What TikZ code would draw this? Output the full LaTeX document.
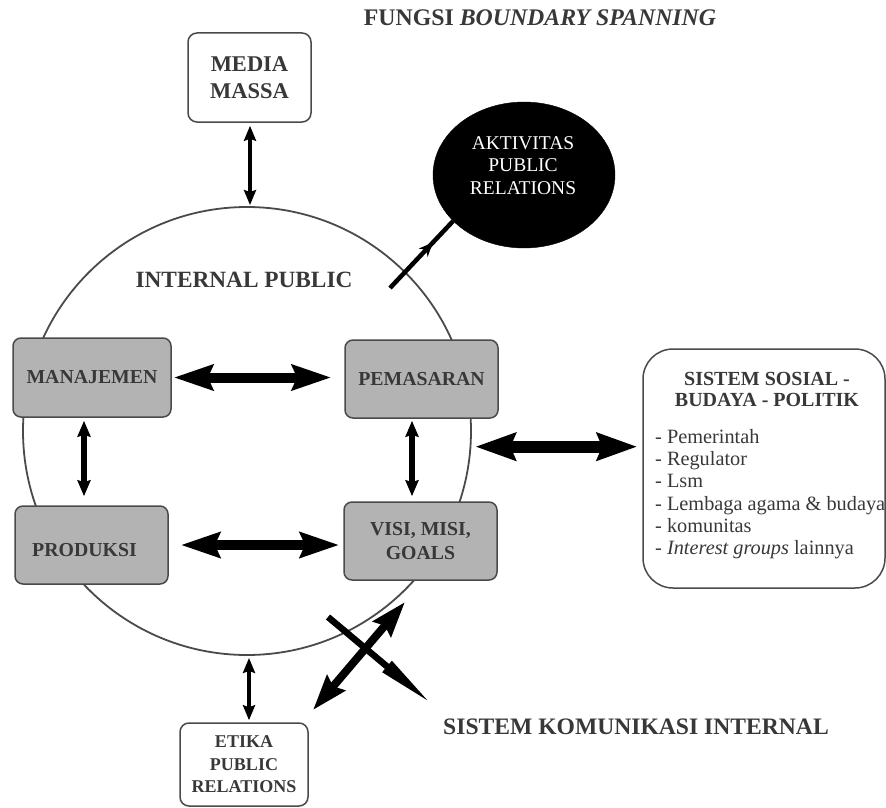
\documentclass[tikz,border=0pt]{standalone}
\usepackage{fontspec}
\setmainfont{Liberation Serif}
\usetikzlibrary{arrows.meta,shapes.geometric,decorations.markings}
\definecolor{txt}{HTML}{383838}
\definecolor{edge}{HTML}{4A4A4A}
\definecolor{boxfill}{HTML}{B3B3B3}
\begin{document}
\begin{tikzpicture}[x=1pt,y=-1pt,
  whitebox/.style={draw=edge, line width=1.5pt, rounded corners=9pt, fill=white, text=txt, align=center, inner sep=0pt},
  graybox/.style={draw=edge, line width=1.5pt, rounded corners=8pt, fill=boxfill, text=txt, align=center, inner sep=0pt, minimum width=153pt, minimum height=78pt, font=\bfseries\fontsize{19.8}{24}\selectfont},
  boxtext/.style={text=txt, align=center, inner sep=0pt, font=\bfseries\fontsize{19.8}{24}\selectfont},
  fatarrow/.style={line width=10pt, {Stealth[length=39pt,width=25pt,inset=5pt]}-{Stealth[length=39pt,width=25pt,inset=5pt]}},
  bigarrow/.style={line width=12pt, {Stealth[length=40pt,width=27pt,inset=5pt]}-{Stealth[length=40pt,width=27pt,inset=5pt]}},
  medarrow/.style={line width=5.5pt, {Stealth[length=16pt,width=13pt,inset=2pt]}-{Stealth[length=16pt,width=13pt,inset=2pt]}},
  thinarrow/.style={line width=3.5pt, {Stealth[length=15pt,width=12pt,inset=2pt]}-{Stealth[length=15pt,width=12pt,inset=2pt]}},
  crossarrow/.style={line width=8pt, {Stealth[length=35pt,width=23pt,inset=4pt]}-{Stealth[length=35pt,width=23pt,inset=4pt]}},
  speararrow/.style={line width=6.5pt, -{Triangle[length=60pt,width=13pt]}}
]
\useasboundingbox (0,0) rectangle (886,808);

% title
\node[anchor=base, text=txt, inner sep=0pt, font=\bfseries\fontsize{23.8}{26}\selectfont] (title) at (540,26) {FUNGSI \textit{BOUNDARY SPANNING}};

% circle
\node[circle, draw=edge, line width=1.8pt, minimum size=448pt, inner sep=0pt] (circ) at (247,431) {};
\node[text=txt, inner sep=0pt, font=\bfseries\fontsize{23.3}{26}\selectfont] (internal) at (244,280) {INTERNAL PUBLIC};

% media massa
\node[whitebox, minimum width=123pt, minimum height=89pt, font=\bfseries\fontsize{22.5}{27}\selectfont] (media) at (249.5,77.5) {MEDIA\\MASSA};

% aktivitas
\node[ellipse, fill=black, draw=black, minimum width=182pt, minimum height=146pt, inner sep=0pt] (akt) at (524,175) {};
\node[text=white, align=center, inner sep=0pt, font=\fontsize{19.5}{22.5}\selectfont] (akttext) at (523,165.5) {AKTIVITAS\\PUBLIC\\RELATIONS};

% gray boxes
\node[graybox, minimum width=158pt, minimum height=79pt] (man) at (92,377.5) {MANAJEMEN};
\node[graybox] (pem) at (421.5,379) {PEMASARAN};
\node[graybox] (pro) at (91.5,545) {};
\node[boxtext] (protext) at (84.5,550) {PRODUKSI};
\node[graybox] (visi) at (420.5,541) {VISI, MISI,\\GOALS};

% sistem sosial box
\node[draw=edge, line width=1.5pt, rounded corners=30pt, fill=white, minimum width=242pt, minimum height=239pt, inner sep=0pt] (sys) at (764,468.5) {};
\node[text=txt, align=center, inner sep=0pt, font=\bfseries\fontsize{20}{21}\selectfont] (systitle) at (767,389.5) {SISTEM SOSIAL -\\BUDAYA - POLITIK};
\node[text=txt, align=left, anchor=north west, inner sep=0pt, font=\fontsize{20.3}{22.3}\selectfont] (sysitems) at (655,429) {- Pemerintah\\- Regulator\\- Lsm\\- Lembaga agama \& budaya\\- komunitas\\- \textit{Interest groups} lainnya};

% etika box
\node[whitebox, minimum width=128pt, minimum height=83pt, font=\bfseries\fontsize{18}{22.5}\selectfont] (etika) at (244,764.5) {ETIKA\\PUBLIC\\RELATIONS};

% sistem komunikasi internal
\node[text=txt, inner sep=0pt, font=\bfseries\fontsize{23.6}{26}\selectfont] (ski) at (636,727) {SISTEM KOMUNIKASI INTERNAL};

% arrows
\draw[thinarrow, shorten <=3pt, shorten >=1pt] ([xshift=0.5pt]media.south) -- ([xshift=0.5pt]media.south |- circ.north);
\draw[thinarrow, shorten <=2pt, shorten >=2pt] ([xshift=2pt]circ.south) -- ([xshift=2pt]circ.south |- etika.north);

\draw[fatarrow, shorten <=2pt, shorten >=13pt] (man.east) -- (man.east -| pem.west);
\draw[fatarrow, shorten <=12pt, shorten >=4pt] (pro.east) -- (pro.east -| visi.west);

\draw[medarrow, shorten <=3pt, shorten >=9pt] ([xshift=-8pt]man.south) -- ([xshift=-8pt]man.south |- pro.north);
\draw[medarrow, shorten <=2pt, shorten >=5pt] ([xshift=-9.5pt]pem.south) -- ([xshift=-9.5pt]pem.south |- visi.north);

\draw[bigarrow, shorten <=4pt, shorten >=5pt] (circ.-4) -- (circ.-4 -| sys.west);

% aktivitas connector
\coordinate (a0) at (390,288);
\draw[line width=4.5pt, postaction={decorate}, decoration={markings, mark=at position 0.68 with {\arrow{Stealth[length=14pt,width=12pt]}}}] (a0) -- (akt.213);

% crossing arrows
\coordinate (x1) at (313,710);
\coordinate (x2) at (405,602);
\coordinate (s1) at (328,617);
\coordinate (s2) at (433,705);
\draw[speararrow] (s1) -- (s2);
\draw[crossarrow] (x1) -- (x2);
\end{tikzpicture}
\end{document}
